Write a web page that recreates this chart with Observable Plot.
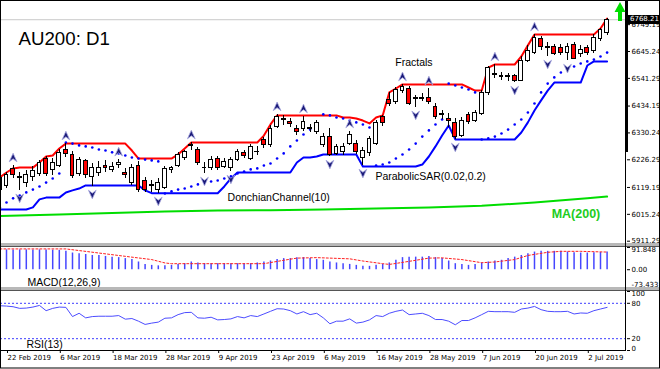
<!DOCTYPE html>
<html><head><meta charset="utf-8">
<script src="https://cdn.jsdelivr.net/npm/d3@7"></script>
<script src="https://cdn.jsdelivr.net/npm/@observablehq/plot@0.6"></script>
<style>
body{margin:0;background:#fff;}
#wrap{position:relative;width:660px;height:369px;overflow:hidden;background:#fff;font-family:"Liberation Sans",Arial,sans-serif;}
#wrap > svg, #wrap > div{position:absolute;left:0;}
</style></head><body><div id="wrap"></div>
<script>
// ---------------- DATA (AU200 daily, 21 Feb 2019 .. 5 Jul 2019) ----------------
const firstIndex = -1; // bar index of first value (21 Feb 2019); 22 Feb 2019 = 0
const dateLabels = ["22 Feb 2019","6 Mar 2019","18 Mar 2019","28 Mar 2019","9 Apr 2019","23 Apr 2019","6 May 2019","16 May 2019","28 May 2019","7 Jun 2019","20 Jun 2019","2 Jul 2019"];
const dateLabelIndex = [0,8,16,24,32,40,48,56,64,72,80,88];

const open = [6154,6123,6189,6154,6135,6158,6173,6231,6185,6204,6266,6243,6173,6220,6158,6177,6204,6185,6208,6177,6138,6204,6146,6123,6108,6119,6185,6204,6235,6278,6266,6193,6196,6231,6200,6196,6227,6251,6231,6255,6301,6282,6355,6382,6374,6347,6347,6347,6332,6282,6313,6247,6255,6289,6289,6235,6251,6289,6390,6456,6448,6494,6502,6463,6463,6467,6432,6398,6386,6367,6320,6398,6378,6405,6483,6556,6545,6545,6549,6533,6610,6641,6692,6657,6661,6657,6641,6669,6634,6657,6649,6692,6715];
const high = [6166,6177,6204,6177,6185,6200,6224,6239,6231,6266,6289,6258,6235,6227,6212,6220,6224,6216,6227,6193,6208,6220,6158,6146,6154,6200,6200,6255,6262,6293,6274,6216,6239,6239,6231,6235,6266,6262,6285,6278,6313,6359,6402,6398,6386,6359,6394,6363,6378,6328,6347,6285,6289,6336,6301,6274,6316,6378,6398,6487,6506,6518,6510,6475,6483,6502,6444,6417,6405,6386,6390,6409,6417,6494,6587,6595,6564,6560,6556,6626,6669,6711,6703,6680,6672,6672,6676,6680,6669,6669,6711,6734,6773];
const low = [6088,6115,6154,6108,6119,6142,6162,6162,6166,6196,6235,6154,6162,6154,6123,6162,6177,6177,6193,6154,6127,6100,6100,6100,6096,6111,6173,6196,6224,6262,6204,6173,6185,6185,6193,6181,6220,6231,6224,6243,6270,6274,6347,6359,6351,6320,6336,6332,6324,6274,6239,6243,6243,6282,6247,6204,6239,6282,6355,6432,6440,6483,6436,6429,6452,6440,6382,6382,6351,6305,6313,6363,6371,6398,6475,6541,6533,6529,6525,6529,6603,6634,6649,6626,6630,6630,6610,6614,6622,6630,6638,6684,6707];
const close = [6108,6166,6166,6158,6166,6181,6212,6173,6212,6251,6247,6162,6224,6166,6196,6196,6196,6200,6212,6169,6196,6108,6108,6127,6135,6189,6193,6243,6255,6282,6212,6196,6227,6196,6216,6224,6255,6239,6274,6258,6282,6347,6390,6386,6363,6332,6371,6351,6367,6316,6243,6274,6274,6324,6255,6262,6305,6367,6367,6444,6498,6506,6444,6467,6467,6448,6390,6402,6378,6313,6378,6371,6409,6483,6583,6560,6549,6549,6533,6610,6649,6696,6661,6661,6634,6638,6661,6618,6653,6641,6699,6727,6768.21];

const donchianUpper = [6158,6177,6193,6196,6196,6196,6216,6239,6243,6270,6289,6289,6289,6289,6289,6289,6289,6289,6289,6289,6262,6231,6231,6231,6231,6231,6231,6247,6270,6293,6293,6293,6293,6293,6293,6293,6293,6293,6293,6293,6320,6363,6398,6398,6398,6398,6398,6398,6398,6398,6398,6398,6390,6390,6386,6378,6367,6390,6398,6487,6502,6518,6518,6518,6518,6518,6518,6518,6518,6518,6518,6506,6494,6494,6583,6595,6595,6595,6595,6626,6669,6711,6711,6711,6711,6711,6711,6711,6711,6711,6711,6734,6773];
const donchianLower = [6034,6034,6034,6034,6034,6042,6073,6080,6080,6080,6100,6108,6115,6127,6127,6127,6127,6127,6127,6127,6127,6127,6108,6097,6097,6097,6097,6097,6097,6097,6097,6097,6097,6097,6123,6154,6177,6177,6177,6177,6177,6177,6177,6177,6177,6216,6235,6235,6239,6247,6247,6247,6247,6247,6247,6200,6200,6200,6200,6200,6200,6200,6200,6200,6208,6239,6278,6320,6359,6305,6305,6305,6305,6305,6305,6305,6305,6305,6305,6332,6371,6417,6456,6494,6525,6525,6525,6525,6525,6591,6607,6607,6607];
const parabolicSar = [6042,6061,6077,6088,6100,6111,6123,6138,6154,6173,6293,6289,6282,6278,6274,6266,6262,6255,6251,6243,6235,6231,6227,6224,6220,6096,6104,6111,6115,6123,6131,6138,6142,6146,6154,6162,6173,6181,6189,6193,6204,6212,6231,6251,6278,6301,6324,6343,6363,6402,6398,6390,6386,6378,6371,6363,6351,6204,6208,6216,6231,6247,6266,6289,6316,6340,6363,6382,6521,6514,6506,6498,6487,6305,6309,6316,6328,6343,6363,6382,6409,6444,6487,6521,6545,6564,6580,6587,6599,6607,6614,6626,6641];

const upFractalIndex = [1,9,17,28,41,45,52,60,64,74,80];
const downFractalIndex = [2,13,23,30,34,49,54,62,68,77,82,85];

const ma200Index = [-1,8,16,24,32,40,48,56,64,72,80,88,91];
const ma200Value = [6009,6015,6020,6026,6030,6031,6034,6038,6042,6048,6061,6077,6084];

const macdFirstIndex = 0;
const macdHist = [82,82,82,82,82,82,82,81,80,76,69,66,63,59,59,55,52,50,46,42,32,22,18,16,16,18,22,25,32,28,25,25,25,25,25,25,25,25,28,32,36,42,46,46,50,50,46,42,39,32,28,25,22,18,14,14,18,22,28,39,50,52,52,52,55,50,46,36,25,22,18,22,28,32,36,39,46,52,59,66,73,76,76,76,76,73,70,69,69,70,71,73];
const signalIndex = [-1,9,14,19,22,24,25,39,42,44,47,49,52,54,57,58,59,62,64,66,69,72,74,77,79,82,84,87,91];
const signalValue = [86,86,69,52,42,28,25,25,39,48,50,48,45,36,25,22,26,39,48,49,42,29,32,42,59,72,76,76,73];

const rsi13 = [75.8,75.3,74.2,71.4,71.9,73.6,76.4,67.5,71.4,73.6,73.1,57.5,63.1,55.3,57.5,58.1,58.1,58.1,59.2,53.1,54.2,49.7,44.2,46.4,48.1,54.7,55.3,60.8,64.2,64.7,55.3,54.7,56.4,51.9,52.5,53.6,57.5,55.3,59.2,57.5,61.9,66.4,70.8,70.3,67.5,61.9,65.8,60.8,63.1,55.3,45.3,49.7,49.7,53.6,46.4,48.1,51.9,59.2,57.5,63.1,66.4,68.6,60.8,61.9,63.1,59.2,52.5,52.5,49.7,43.6,50.8,50.8,55.3,60.8,66.4,65.8,65.8,65.8,64.7,70.3,71.9,74.7,69.2,66.4,65.8,65.8,66.4,61.9,63.6,63.1,67.5,70.3,73.1];

const priceTicks = [6749.19,6645.24,6541.29,6434.19,6330.24,6226.29,6119.19,6015.24,5911.29];
const macdLabels = [91.848, 0, -73.433];
const rsiLevels = [80, 20];
const lastPrice = 6768.21;

// ---------------- build tables ----------------
const candles = open.map((o,k)=>({i:k+firstIndex, open:o, high:high[k], low:low[k], close:close[k]}));
const bull = candles.filter(d=>d.close>=d.open);
const bear = candles.filter(d=>d.close<d.open);
const donch = donchianUpper.map((u,k)=>({i:k+firstIndex, upper:u, lower:donchianLower[k], sar:parabolicSar[k]}));
const byIndex = new Map(candles.map(d=>[d.i,d]));
const upF = upFractalIndex.map(i=>byIndex.get(i));
const dnF = downFractalIndex.map(i=>byIndex.get(i));
const ma = ma200Index.map((i,k)=>({i, v:ma200Value[k]}));
const hist = macdHist.map((v,k)=>({i:k+macdFirstIndex, v}));
const signal = signalIndex.map((i,k)=>({i, v:signalValue[k]}));
const rsi = rsi13.map((v,k)=>({i:k+firstIndex, v}));

const XD = [-0.909, 93.94];
const FONT = "Liberation Sans, Arial, sans-serif";
const AXF = "DejaVu Sans, Verdana, sans-serif";
const arrowHead = {draw(ctx, size){const r=Math.sqrt(size/Math.PI);ctx.moveTo(0,-r);ctx.lineTo(r*0.9,r);ctx.lineTo(0,r*0.3);ctx.lineTo(-r*0.9,r);ctx.closePath();}};

const wrap = document.getElementById("wrap");

// ---------------- main price pane ----------------
const main = Plot.plot({
  width:660, height:244, marginTop:0, marginBottom:0, marginLeft:0, marginRight:34,
  style:{background:"transparent", color:"#000", fontFamily:AXF, fontSize:"7px", overflow:"visible"},
  x:{domain:XD, axis:null},
  y:{domain:[5898.5,6842.6], ticks:priceTicks, tickFormat:d=>d.toFixed(2), tickSize:3, tickPadding:2, axis:"right", label:null},
  marks:[
    Plot.ruleY([lastPrice], {stroke:"#c8c8c8"}),
    Plot.line(ma, {x:"i", y:"v", stroke:"#00dd00", strokeWidth:2, clip:true}),
    Plot.line(donch, {x:"i", y:"upper", stroke:"#ff0000", strokeWidth:2, clip:true}),
    Plot.line(donch, {x:"i", y:"lower", stroke:"#0000ff", strokeWidth:2, clip:true}),
    Plot.dot(donch, {x:"i", y:"sar", r:1.3, fill:"#0000ff", stroke:null, clip:true}),
    Plot.ruleX(candles, {x:"i", y1:"low", y2:"high", stroke:"#000", strokeWidth:1, shapeRendering:"crispEdges", clip:true}),
    Plot.rect(bull, {x1:d=>d.i-0.3, x2:d=>d.i+0.3, y1:"open", y2:"close", fill:"#fff", stroke:"#000", strokeWidth:1, shapeRendering:"crispEdges", clip:true}),
    Plot.rect(bear, {x1:d=>d.i-0.3, x2:d=>d.i+0.3, y1:"open", y2:"close", fill:"#ff0000", stroke:"#000", strokeWidth:1, shapeRendering:"crispEdges", clip:true}),
    Plot.dot(upF, {x:"i", y:"high", dy:-8, symbol:arrowHead, r:4.3, fill:"#1a1a78", stroke:"#a8a8e0", strokeWidth:0.8}),
    Plot.dot(dnF, {x:"i", y:"low", dy:8, symbol:arrowHead, rotate:180, r:4.3, fill:"#1a1a78", stroke:"#a8a8e0", strokeWidth:0.8}),
    Plot.text(["AU200: D1"], {frameAnchor:"top-left", dx:18, dy:44, lineAnchor:"bottom", textAnchor:"start", fontSize:18.7, fontFamily:FONT, fill:"#000"}),
    Plot.text([{i:58.9, v:6600.8, t:"Fractals"},{i:33.5, v:6080.4, t:"DonchianChannel(10)"},{i:55.9, v:6159.7, t:"ParabolicSAR(0.02,0.2)"}], {x:"i", y:"v", text:"t", textAnchor:"start", fontSize:10.5, fontFamily:FONT, fill:"#000"}),
    Plot.text([{i:82.6, v:6014.6, t:"MA(200)"}], {x:"i", y:"v", text:"t", textAnchor:"start", fontSize:12.5, fontWeight:"bold", fontFamily:FONT, fill:"#22cc22"})
  ]
});
main.style.top = "0px";
wrap.appendChild(main);

// ---------------- MACD pane ----------------
const macdPlot = Plot.plot({
  width:660, height:40, marginTop:0, marginBottom:0, marginLeft:0, marginRight:34,
  style:{background:"transparent", color:"#000", fontFamily:AXF, fontSize:"7px", overflow:"visible"},
  x:{domain:XD, axis:null},
  y:{domain:[-73.433, 91.848], ticks:macdLabels, tickFormat:()=>"", tickSize:3, axis:"right", label:null},
  marks:[
    Plot.ruleX(hist, {x:"i", y1:0, y2:"v", stroke:"#4646ff", strokeWidth:1.5, clip:true}),
    Plot.line(signal, {x:"i", y:"v", stroke:"#ff2020", strokeWidth:1, strokeDasharray:"2,2", clip:true}),
    Plot.text([macdLabels[0]], {y:d=>d, text:d=>String(d), frameAnchor:"right", textAnchor:"start", lineAnchor:"top", dx:5, fontSize:7, fontFamily:AXF}),
    Plot.text([macdLabels[1]], {y:d=>d, text:d=>d.toFixed(2), frameAnchor:"right", textAnchor:"start", lineAnchor:"middle", dx:5, fontSize:7, fontFamily:AXF}),
    Plot.text([macdLabels[2]], {y:d=>d, text:d=>String(d), frameAnchor:"right", textAnchor:"start", lineAnchor:"bottom", dx:5, dy:-1, fontSize:7, fontFamily:AXF}),
    Plot.text(["MACD(12,26,9)"], {frameAnchor:"bottom-left", dx:27, dy:-2, lineAnchor:"bottom", textAnchor:"start", fontSize:10.5, fontFamily:FONT})
  ]
});
macdPlot.style.top = "247px";
wrap.appendChild(macdPlot);

// ---------------- RSI pane + date axis ----------------
const rsiPlot = Plot.plot({
  width:660, height:78, marginTop:0, marginBottom:19, marginLeft:0, marginRight:34,
  style:{background:"transparent", color:"#000", fontFamily:AXF, fontSize:"7px", overflow:"visible"},
  x:{domain:XD},
  y:{domain:[0,100], ticks:[100,80,20,0], tickFormat:()=>"", tickSize:3, axis:"right", label:null},
  marks:[
    Plot.ruleY(rsiLevels, {stroke:"#3c3cff", strokeDasharray:"2,2"}),
    Plot.line(rsi, {x:"i", y:"v", stroke:"#4c4cff", strokeWidth:1, clip:true}),
    Plot.text([100], {y:d=>d, text:d=>String(d), frameAnchor:"right", textAnchor:"start", lineAnchor:"top", dx:5, fontSize:7, fontFamily:AXF}),
    Plot.text(rsiLevels, {y:d=>d, text:d=>String(d), frameAnchor:"right", textAnchor:"start", lineAnchor:"middle", dx:5, fontSize:7, fontFamily:AXF}),
    Plot.text([0], {y:d=>d, text:d=>String(d), frameAnchor:"right", textAnchor:"start", lineAnchor:"bottom", dx:5, fontSize:7, fontFamily:AXF}),
    Plot.text(["RSI(13)"], {frameAnchor:"bottom-left", dx:26, dy:-3, lineAnchor:"bottom", textAnchor:"start", fontSize:10.5, fontFamily:FONT}),
    Plot.axisX(dateLabelIndex, {anchor:"bottom", tickSize:3, tickPadding:2, textAnchor:"start", dx:1, tickFormat:(d)=>dateLabels[dateLabelIndex.indexOf(d)], fontSize:7, fontFamily:AXF, label:null})
  ]
});
rsiPlot.style.top = "291px";
wrap.appendChild(rsiPlot);

// ---------------- current price box ----------------
const yLast = main.scale("y").apply(lastPrice);
const box = document.createElement("div");
box.textContent = lastPrice.toFixed(2);
Object.assign(box.style, {left:"627px", top:(yLast-4.5)+"px", width:"33px", height:"9px", background:"#000", color:"#fff", font:"7px "+AXF, lineHeight:"9px", paddingLeft:"3px", boxSizing:"border-box"});
wrap.appendChild(box);

// ---------------- chrome (frame, separators, arrow) ----------------
const ns = "http://www.w3.org/2000/svg";
const ov = d3.select(wrap).append("svg").attr("width",660).attr("height",369).style("top","0px").style("pointer-events","none");
ov.append("rect").attr("x",0).attr("y",243).attr("width",660).attr("height",4).attr("fill","#b8b8b8");
ov.append("line").attr("x1",0).attr("x2",660).attr("y1",246.5).attr("y2",246.5).attr("stroke","#555");
ov.append("rect").attr("x",0).attr("y",287).attr("width",660).attr("height",4).attr("fill","#b8b8b8");
ov.append("line").attr("x1",0).attr("x2",660).attr("y1",290.5).attr("y2",290.5).attr("stroke","#555");
ov.append("line").attr("x1",0).attr("x2",626).attr("y1",350.5).attr("y2",350.5).attr("stroke","#000");
ov.append("line").attr("x1",625.5).attr("x2",625.5).attr("y1",0).attr("y2",351).attr("stroke","#000");
ov.append("rect").attr("x",625).attr("y",0).attr("width",3).attr("height",152).attr("fill","#000");
ov.append("rect").attr("x",0.5).attr("y",0.5).attr("width",659).attr("height",367.5).attr("fill","none").attr("stroke","#000");
ov.append("polygon").attr("points","620,2 625.5,12 622,12 622,21 618,21 618,12 614.5,12").attr("fill","#00dd00");
</script></body></html>
